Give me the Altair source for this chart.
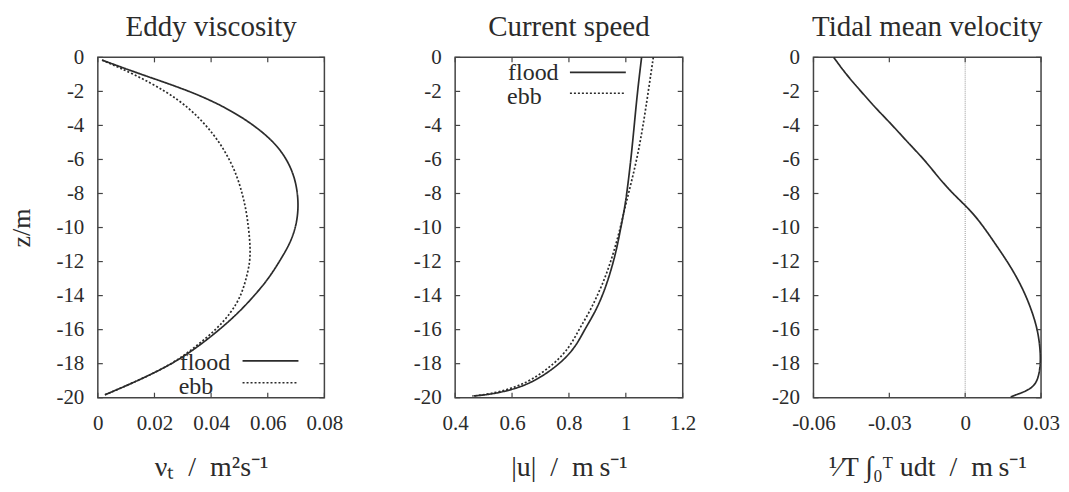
import altair as alt
import pandas as pd

FONT = "Liberation Serif"
INK = "#2b2b2b"
FRAME = "#444444"

series = ["flood", "ebb"]
titles = ["Eddy viscosity", "Current speed", "Tidal mean velocity"]
x_titles = ["νₜ\u2002/\u2002m²s⁻¹", "|u|\u2002/\u2002m\u2009s⁻¹", "¹⁄T ∫₀ᵀ udt\u2002/\u2002m\u2009s⁻¹"]
y_title = "z/m"

# Eddy viscosity profiles
z_nu = [-0.16, -1, -2, -3, -4, -5, -6, -7, -8, -9, -10, -11, -12, -13, -14,
        -15, -16, -17, -18, -19, -19.83]
nu_flood = [0.0015, 0.0152, 0.033, 0.0459, 0.0553, 0.0624, 0.0668, 0.0694,
            0.0706, 0.0708, 0.0699, 0.0677, 0.0641, 0.0603, 0.0553, 0.0497,
            0.043, 0.0354, 0.0265, 0.0142, 0.0025]
nu_ebb = [0.0015, 0.013, 0.0242, 0.0324, 0.0383, 0.043, 0.0465, 0.0492,
          0.051, 0.0524, 0.0532, 0.0538, 0.0538, 0.0524, 0.0506, 0.0471,
          0.0418, 0.0346, 0.0265, 0.0142, 0.0025]

# Current speed profiles
z_u = [0, -2, -4, -6, -8, -9, -10, -11, -12, -13, -14, -15, -16, -17, -18,
       -19, -19.5, -19.8, -19.9]
u_flood = [1.0554, 1.041, 1.0296, 1.018, 1.0035, 0.9944, 0.9824, 0.971,
           0.9566, 0.939, 0.918, 0.891, 0.855, 0.824, 0.77, 0.684, 0.609,
           0.527, 0.464]
u_ebb = [1.0966, 1.079, 1.061, 1.039, 1.0095, 0.9944, 0.981, 0.965, 0.947,
         0.926, 0.900, 0.871, 0.835, 0.804, 0.75, 0.667, 0.592, 0.516, 0.46]

# Tidal mean velocity profile
z_m = [0, -1, -2, -3, -4, -5, -6, -7, -8, -9, -10, -11, -12, -13, -14, -15,
       -16, -17, -18, -19, -19.5, -19.8, -19.95]
u_mean = [-0.052, -0.0471, -0.0412, -0.0353, -0.0287, -0.0227, -0.0162,
          -0.0109, -0.005, 0.00225, 0.0075, 0.0121, 0.0167, 0.0207, 0.024,
          0.0266, 0.0286, 0.0296, 0.0299, 0.0288, 0.026, 0.0207, 0.018]

z_ticks = [-20, -18, -16, -14, -12, -10, -8, -6, -4, -2, 0]
nu_ticks = [0, 0.02, 0.04, 0.06, 0.08]
u_ticks = [0.4, 0.6, 0.8, 1.0, 1.2]
m_ticks = [-0.06, -0.03, 0, 0.03]

H = 341
LABEL_EXPR = "replace(datum.label, '\u2212', '-')"


def profile_df(z, vals, name):
    return pd.DataFrame({"z": z, "v": vals, "s": name, "i": list(range(len(z)))})


def panel(df, xdomain, xticks, width, title, xtitle, show_ytitle, legend=None, zero=False):
    W = width
    xscale = alt.Scale(domain=xdomain, nice=False, zero=False)
    yscale = alt.Scale(domain=[-20, 0], nice=False, zero=False)
    yaxis_kw = dict(values=z_ticks, format="~g", labelExpr=LABEL_EXPR,
                    labelFlush=False, labelOverlap=False, labelPadding=14,
                    minExtent=44, maxExtent=44)
    if show_ytitle:
        yaxis_kw.update(title=y_title, titlePadding=19)
    else:
        yaxis_kw.update(title="")
    xaxis = alt.Axis(values=xticks, format="~g", labelExpr=LABEL_EXPR,
                     labelFlush=False, labelOverlap=False, labelPadding=15,
                     title=xtitle, titlePadding=20, titleFontSize=28)
    yaxis = alt.Axis(**yaxis_kw)
    X = lambda: alt.X("v:Q", scale=xscale, axis=xaxis)
    Y = lambda: alt.Y("z:Q", scale=yscale, axis=yaxis)

    lines = alt.Chart(df).mark_line(color=INK, interpolate="basis", strokeWidth=1.7).encode(
        x=X(), y=Y(),
        detail="s:N",
        order="i:Q",
        strokeDash=alt.StrokeDash("s:N", scale=alt.Scale(domain=series, range=[[1, 0], [2, 2]]),
                                  legend=None),
    )
    layers = []
    if zero:
        layers.append(alt.Chart(pd.DataFrame({"v": [0]})).mark_rule(
            color="#9a9a9a", strokeWidth=1, strokeDash=[1, 1]).encode(x=X()))
    layers.append(lines)
    yt = pd.DataFrame({"z": z_ticks})
    xt = pd.DataFrame({"v": xticks})
    layers.append(alt.Chart(yt).mark_rule(color=FRAME, strokeWidth=1.2).encode(
        y=Y(), x=alt.value(0), x2=alt.value(5)))
    layers.append(alt.Chart(yt).mark_rule(color=FRAME, strokeWidth=1.2).encode(
        y=Y(), x=alt.value(W - 5), x2=alt.value(W)))
    layers.append(alt.Chart(xt).mark_rule(color=FRAME, strokeWidth=1.2).encode(
        x=X(), y=alt.value(H - 5), y2=alt.value(H)))
    layers.append(alt.Chart(xt).mark_rule(color=FRAME, strokeWidth=1.2).encode(
        x=X(), y=alt.value(0), y2=alt.value(5)))
    if legend is not None:
        tx, ty_f, ty_e, lx1, lx2, ly_f, ly_e = legend
        layers.append(alt.Chart(pd.DataFrame({"s": ["flood"]})).mark_text(
            align="left", baseline="alphabetic", font=FONT, fontSize=24, color=INK).encode(
            text="s:N", x=alt.value(tx), y=alt.value(ty_f)))
        layers.append(alt.Chart(pd.DataFrame({"s": ["ebb"]})).mark_text(
            align="left", baseline="alphabetic", font=FONT, fontSize=24, color=INK).encode(
            text="s:N", x=alt.value(tx - 1), y=alt.value(ty_e)))
        layers.append(alt.Chart(pd.DataFrame({"s": ["flood"]})).mark_rule(
            color=INK, strokeWidth=1.7).encode(x=alt.value(lx1), x2=alt.value(lx2), y=alt.value(ly_f)))
        layers.append(alt.Chart(pd.DataFrame({"s": ["ebb"]})).mark_rule(
            color=INK, strokeWidth=1.5, strokeDash=[2, 2]).encode(
            x=alt.value(lx1), x2=alt.value(lx2), y=alt.value(ly_e)))
    return alt.layer(*layers).properties(
        width=W, height=H,
        title=alt.TitleParams(title, anchor="middle"))


df1 = pd.concat([profile_df(z_nu, nu_flood, "flood"), profile_df(z_nu, nu_ebb, "ebb")])
df2 = pd.concat([profile_df(z_u, u_flood, "flood"), profile_df(z_u, u_ebb, "ebb")])
df3 = profile_df(z_m, u_mean, "flood")

p1 = panel(df1, [0, 0.08], nu_ticks, 227, titles[0], x_titles[0], True,
           legend=(82, 313.5, 337.5, 145, 201, 304, 326))
p2 = panel(df2, [0.4, 1.2], u_ticks, 228, titles[1], x_titles[1], False,
           legend=(53, 22.5, 46.5, 115, 171, 15, 36))
p3 = panel(df3, [-0.06, 0.03], m_ticks, 228, titles[2], x_titles[2], False, zero=True)

chart = alt.hconcat(p1, p2, p3, spacing=131, bounds="flush").properties(
    padding={"left": 0, "top": 4, "right": 0, "bottom": 0}
).configure_view(
    stroke=FRAME, strokeWidth=1.5
).configure_axis(
    grid=False, ticks=False, domain=False,
    labelFont=FONT, labelFontSize=21, labelColor=INK,
    titleFont=FONT, titleFontSize=26, titleColor=INK, titleFontWeight="normal"
).configure_title(
    font=FONT, fontSize=29, fontWeight="normal", color=INK, offset=0
)

chart.save("out.html", embed_options={"renderer": "svg", "actions": False})
